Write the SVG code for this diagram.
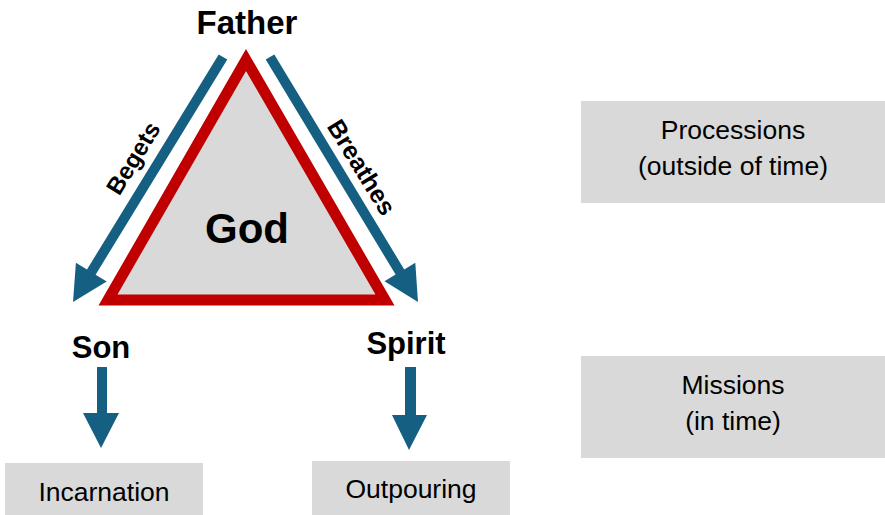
<svg xmlns="http://www.w3.org/2000/svg" width="885" height="515" viewBox="0 0 885 515">
<style>
.box{fill:#D9D9D9;}
.lbl{font-family:"Liberation Sans",Arial,sans-serif;font-size:26.5px;fill:#000;text-anchor:middle;}
.bold{font-family:"Liberation Sans",Arial,sans-serif;font-weight:bold;fill:#000;text-anchor:middle;}
.arrow{fill:#156082;}
</style>
<rect width="885" height="515" fill="#fff"/>
<g id="god">
<polygon points="246,60 108,300 385,300" fill="#D9D9D9" stroke="#C00000" stroke-width="11" stroke-linejoin="miter"/>
<text class="bold" x="247" y="243" font-size="42">God</text>
</g>
<g id="father"><text class="bold" x="247" y="34" font-size="33">Father</text></g>
<g id="son"><text class="bold" x="101" y="358" font-size="31">Son</text></g>
<g id="spirit"><text class="bold" x="406" y="354" font-size="31">Spirit</text></g>
<g id="incarnation"><rect class="box" x="5" y="463" width="198" height="52"/><text class="lbl" x="104" y="501">Incarnation</text></g>
<g id="outpouring"><rect class="box" x="312" y="461" width="198" height="54"/><text class="lbl" x="411" y="498">Outpouring</text></g>
<g id="processions"><rect class="box" x="581" y="101" width="304" height="102"/><text class="lbl" x="733" y="139">Processions</text><text class="lbl" x="733" y="175">(outside of time)</text></g>
<g id="missions"><rect class="box" x="581" y="356" width="304" height="102"/><text class="lbl" x="733" y="394">Missions</text><text class="lbl" x="733" y="430">(in time)</text></g>
<g id="connectors">
<polygon class="arrow" points="227.3,59.6 95.6,274.7 106.7,281.5 73,302 75.9,262.7 87,269.5 218.7,54.4"/>
<polygon class="arrow" points="265.7,59.6 395.6,274.6 384.5,281.3 418,302 415.3,262.7 404.2,269.4 274.3,54.4"/>
<polygon class="arrow" points="97,367 107,367 107,413 119,413 101,448 83,413 97,413"/>
<polygon class="arrow" points="405,367 416,367 416,415 427,415 409,450 392,415 405,415"/>
<text class="bold" font-size="24" transform="translate(133,158) rotate(-58.4)" x="0" y="8.6">Begets</text>
<text class="bold" font-size="25" transform="translate(362,167) rotate(58.4)" x="0" y="9">Breathes</text>
</g>
</svg>
